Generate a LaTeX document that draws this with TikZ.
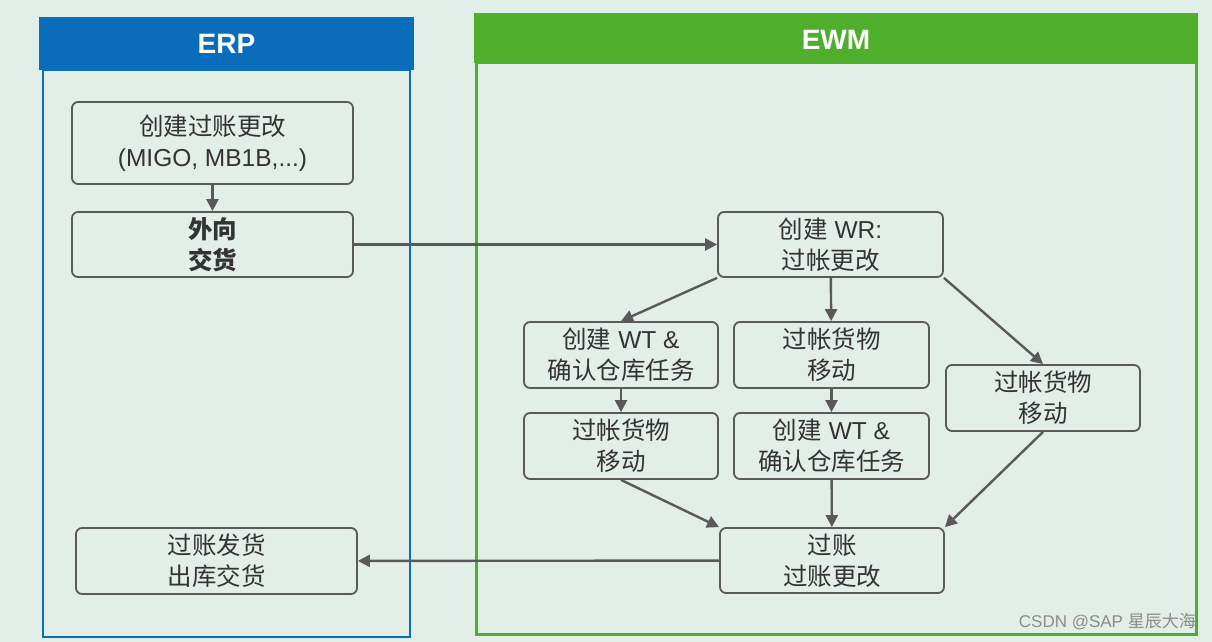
\documentclass[tikz,border=0pt]{standalone}
\usepackage{fontspec}
\setmainfont{Liberation Sans}
\newfontfamily\cjk{Noto Sans CJK SC}
\usetikzlibrary{arrows.meta}
\definecolor{bg}{HTML}{E2EEE8}
\definecolor{erpblue}{HTML}{0A6DBA}
\definecolor{ewmgreen}{HTML}{4FAE2C}
\definecolor{boxc}{HTML}{5A5A5A}
\definecolor{txt}{HTML}{333333}
\definecolor{arr}{HTML}{595959}
\newcommand{\zh}[1]{{\cjk #1}}
\tikzset{
  box/.style={draw=boxc, line width=1.8pt, rounded corners=6pt, align=center,
    font=\fontsize{24.5}{31}\selectfont, text=txt, inner sep=0pt},
  flow/.style={draw=arr, line width=2.4pt, -{Triangle[length=12pt,width=12pt]}},
  hdr/.style={inner sep=0pt, font=\fontsize{28}{32}\selectfont\bfseries, text=white}
}
\begin{document}
\begin{tikzpicture}[x=1pt,y=-1pt]
\fill[bg] (0,0) rectangle (1212,642);
\useasboundingbox (0,0) rectangle (1212,642);
% ERP panel
\draw[erpblue, line width=2pt] (43,70) rectangle (410,637);
\fill[erpblue] (39,17) rectangle (414,70);
\node[hdr] (erp) at (226.5,44) {ERP};
% EWM panel
\draw[ewmgreen, line width=3pt] (476,63) rectangle (1196,634);
\fill[ewmgreen] (474,13) rectangle (1198,63);
\node[hdr] (ewm) at (836,40) {EWM};
% nodes
\node[box, minimum width=281pt, minimum height=82pt] (n1) at (212.5,143) {\zh{创建过账更改}\\(MIGO, MB1B,...)};
\node[box, minimum width=281pt, minimum height=65pt] (n2) at (212.5,244.5) {\zh{\bfseries 外向}\\\zh{\bfseries 交货}};
\node[box, minimum width=225pt, minimum height=65pt] (wr) at (830.5,244.5) {\zh{创建} WR:\\\zh{过帐更改}};
\node[box, minimum width=194pt, minimum height=66pt] (n4) at (621,355) {\zh{创建} WT \&\\\zh{确认仓库任务}};
\node[box, minimum width=195pt, minimum height=66pt] (n5) at (831.5,355) {\zh{过帐货物}\\\zh{移动}};
\node[box, minimum width=194pt, minimum height=66pt] (n6) at (1043,398) {\zh{过帐货物}\\\zh{移动}};
\node[box, minimum width=194pt, minimum height=66pt] (n7) at (621,446) {\zh{过帐货物}\\\zh{移动}};
\node[box, minimum width=195pt, minimum height=66pt] (n8) at (831.5,446) {\zh{创建} WT \&\\\zh{确认仓库任务}};
\node[box, minimum width=224pt, minimum height=65pt] (n9) at (832,560.5) {\zh{过账}\\\zh{过账更改}};
\node[box, minimum width=281pt, minimum height=66pt] (n10) at (216.5,561) {\zh{过账发货}\\\zh{出库交货}};
% connectors
\draw[flow] (n1) -- (n2);
\draw[flow] (n2) -- (wr);
\draw[flow] (wr.south west) -- (n4.north);
\draw[flow] (wr) -- (n5);
\draw[flow] (wr.south east) -- (n6.north);
\draw[flow] (n4) -- (n7);
\draw[flow] (n5) -- (n8);
\draw[flow] (n7.south) -- (n9.north west);
\draw[flow] (n8) -- (n9);
\draw[flow] (n6.south) -- (n9.north east);
\draw[flow] (n9) -- (n10);
% watermark text
\node[anchor=east, inner sep=0pt, font=\fontsize{17}{20}\selectfont, text=black!45] (wm) at (1196,622) {CSDN @SAP \zh{星辰大海}};
\end{tikzpicture}
\end{document}
